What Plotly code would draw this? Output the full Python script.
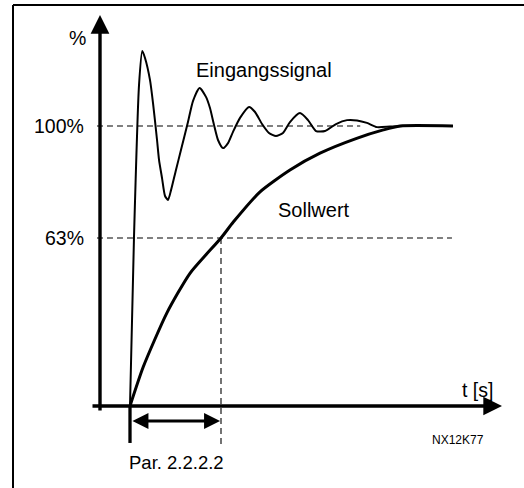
import plotly.graph_objects as go

# ---- data (time in units of the time constant Par. 2.2.2.2, level in %) ----
eingang_t = [0, 0.044, 0.099, 0.135, 0.165, 0.220, 0.253, 0.297, 0.319, 0.352, 0.385, 0.418,
             0.451, 0.505, 0.560, 0.637, 0.692, 0.764, 0.835, 0.879, 0.923, 0.967, 1.022,
             1.077, 1.132, 1.209, 1.308, 1.374, 1.451, 1.527, 1.604, 1.681, 1.758, 1.868,
             1.956, 2.044, 2.143, 2.264, 2.385, 2.495, 2.604, 2.714, 2.857, 3.0, 3.549]
eingang_y = [0, 60.4, 114.6, 126.8, 124.3, 116.4, 108.2, 95.0, 87.9, 81.4, 75.0, 73.6,
             77.1, 84.3, 91.4, 101.4, 108.9, 113.6, 110.4, 106.4, 100.4, 95.0, 92.1,
             93.9, 97.9, 102.9, 106.8, 105.0, 100.7, 97.5, 96.4, 97.5, 101.4, 104.6,
             102.1, 98.2, 98.2, 100.7, 102.1, 102.0, 101.1, 99.6, 99.8, 100, 100]

soll_t = [0, 0.146, 0.403, 0.659, 1.0, 1.135, 1.429, 1.758, 2.088, 2.491, 2.784, 2.967, 3.549]
soll_y = [0, 14.0, 33.1, 47.4, 60.0, 65.7, 76.5, 84.3, 90.3, 95.6, 98.6, 100, 100]

ref_levels = [60, 100]          # levels of the dashed guide lines
ref_labels = ["63%", "100%"]
tau = 1.0                       # Par. 2.2.2.2

FONT = "Liberation Sans, Arial, sans-serif"

fig = go.Figure()
fig.add_trace(go.Scatter(x=eingang_t, y=eingang_y, mode="lines",
                         line=dict(color="black", width=2, shape="spline", smoothing=0.6),
                         hoverinfo="skip", showlegend=False))
fig.add_trace(go.Scatter(x=soll_t, y=soll_y, mode="lines",
                         line=dict(color="black", width=3, shape="spline", smoothing=0.6),
                         hoverinfo="skip", showlegend=False))

X0, X1 = -130 / 91, 394 / 91
Y0, Y1 = -82 / 2.8, 406 / 2.8
yaxis_x = -0.3297
x_axis_start = -0.4286
x_axis_tip = 4.088
y_axis_bottom = -2.14
y_axis_tip = 139.6

shapes = []
# frame (top and left edges)
shapes.append(dict(type="line", xref="paper", yref="paper", x0=13 / 524, x1=1.0,
                   y0=1 - 5 / 488, y1=1 - 5 / 488, line=dict(color="black", width=2)))
shapes.append(dict(type="line", xref="paper", yref="paper", x0=13 / 524, x1=13 / 524,
                   y0=0.0, y1=1 - 5 / 488, line=dict(color="black", width=2)))
# dashed guides
dash_style = dict(color="black", width=1.1, dash="6px,4px")
shapes.append(dict(type="line", x0=-0.363, x1=2.53, y0=ref_levels[1], y1=ref_levels[1],
                   line=dash_style))
shapes.append(dict(type="line", x0=-0.363, x1=3.538, y0=ref_levels[0], y1=ref_levels[0],
                   line=dash_style))
shapes.append(dict(type="line", x0=tau, x1=tau, y0=ref_levels[0], y1=-14.3,
                   line=dash_style))
# vertical marker at origin
shapes.append(dict(type="line", x0=0, x1=0, y0=0, y1=-13.2,
                   line=dict(color="black", width=3.3)))
fig.update_layout(shapes=shapes)

annos = []
# axes with arrowheads
annos.append(dict(x=x_axis_tip, y=0, ax=x_axis_start, ay=0, xref="x", yref="y",
                  axref="x", ayref="y", text="", showarrow=True, arrowhead=2,
                  arrowsize=1.1, arrowwidth=3.4, arrowcolor="black", standoff=0, startstandoff=0))
annos.append(dict(x=yaxis_x, y=y_axis_tip, ax=yaxis_x, ay=y_axis_bottom, xref="x", yref="y",
                  axref="x", ayref="y", text="", showarrow=True, arrowhead=2,
                  arrowsize=1.1, arrowwidth=3.4, arrowcolor="black", standoff=0, startstandoff=0))
# double arrow for Par. 2.2.2.2
annos.append(dict(x=tau - 0.01, y=-5.36, ax=0.01, ay=-5.36, xref="x", yref="y",
                  axref="x", ayref="y", text="", showarrow=True, arrowhead=2, startarrowhead=2,
                  arrowside="end+start", arrowsize=1.0, startarrowsize=1.0, arrowwidth=3.2,
                  arrowcolor="black", standoff=0, startstandoff=0))

def label(text, x, y, xanchor="left", size=18.5):
    annos.append(dict(x=x, y=y, xref="x", yref="y", text=text, showarrow=False,
                      xanchor=xanchor, yanchor="middle",
                      font=dict(family=FONT, size=size, color="black")))

label("%", -0.582, 131.4, xanchor="center", size=19.5)
for lv, lb in zip(ref_levels, ref_labels):
    label(lb, -0.48, lv, xanchor="right", size=19.5)
label("Eingangssignal", 0.70, 120, size=20)
label("Sollwert", 1.60, 70, size=20)
label("t [s]", 3.63, 5.7, size=19.5)
label("Par. 2.2.2.2", -0.035, -20, size=18.5)
label("NX12K77", 3.30, -12.1, size=12)

fig.update_layout(
    annotations=annos,
    width=524, height=488,
    margin=dict(l=0, r=0, t=0, b=0),
    paper_bgcolor="white", plot_bgcolor="white",
    xaxis=dict(range=[X0, X1], visible=False, fixedrange=True),
    yaxis=dict(range=[Y0, Y1], visible=False, fixedrange=True),
    showlegend=False,
)

fig.write_html("out.html", config={"displayModeBar": False},
               post_script="document.body.style.margin='0';document.body.style.overflow='hidden';")
